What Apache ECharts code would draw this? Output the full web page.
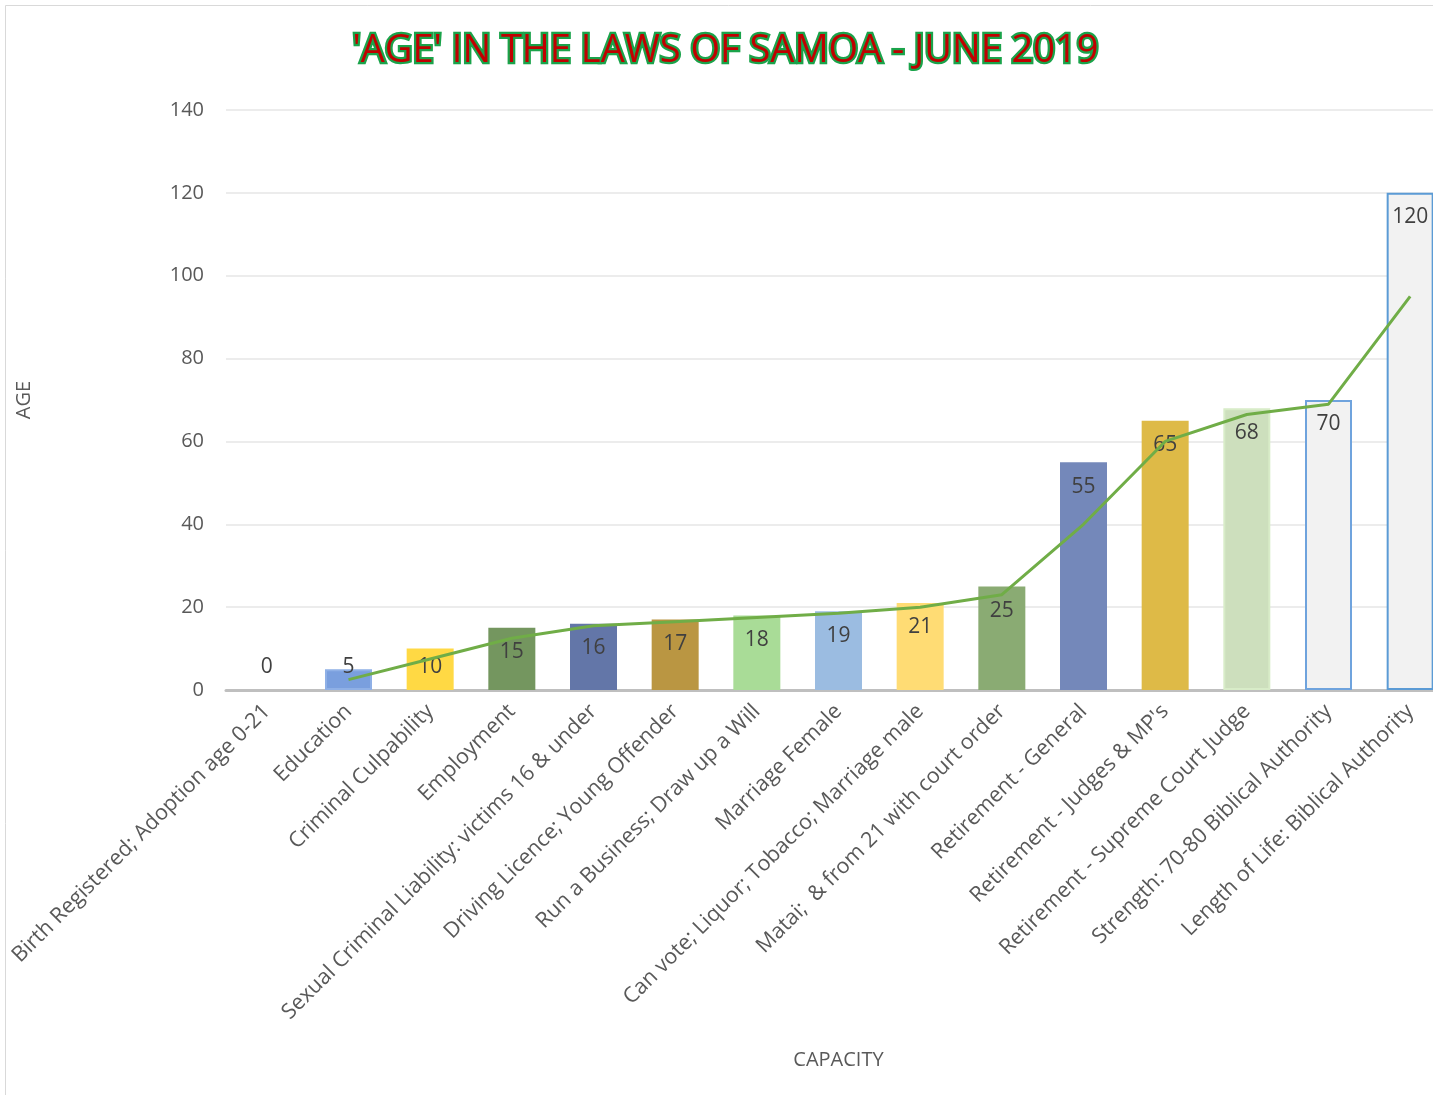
<!DOCTYPE html>
<html><head><meta charset="utf-8">
<script src="https://cdn.jsdelivr.net/npm/echarts@6/dist/echarts.min.js"></script>
<style>html,body{margin:0;padding:0;background:#fff;overflow:hidden;}#c{width:1451px;height:1095px;}</style>
</head><body><div id="c"></div>
<script>
const categories = [
  "Birth Registered; Adoption age 0-21",
  "Education",
  "Criminal Culpability",
  "Employment",
  "Sexual Criminal Liability: victims 16 & under",
  "Driving Licence; Young Offender",
  "Run a Business; Draw up a Will",
  "Marriage Female",
  "Can vote; Liquor; Tobacco; Marriage male",
  "Matai;  & from 21 with court order",
  "Retirement - General",
  "Retirement - Judges & MP's",
  "Retirement - Supreme Court Judge",
  "Strength: 70-80 Biblical Authority",
  "Length of Life: Biblical Authority"
];
const ages = [0, 5, 10, 15, 16, 17, 18, 19, 21, 25, 55, 65, 68, 70, 120];
const trend = [null, 2.5, 7.5, 12.5, 15.5, 16.5, 17.5, 18.5, 20, 23, 40, 60, 66.5, 69, 95];
const yTicks = [0, 20, 40, 60, 80, 100, 120, 140];

const barColors = ["#7a9fde", "#7a9fde", "#ffd944", "#74965f", "#6376a8", "#ba9642", "#a9dc97", "#9bbce1", "#ffdc74", "#8aab73", "#7488ba", "#deba47", "#cddfbd", "#f2f2f2", "#f2f2f2"];
const barBorders = [null, "#8fb0e6", null, null, null, null, null, null, null, null, null, null, "#d8ecc8", "#6fa3dd", "#5b9bd5"];

const FONT = "'Open Sans', 'Noto Sans', sans-serif";
const chart = echarts.init(document.getElementById('c'));
chart.setOption({
  animation: false,
  backgroundColor: '#fff',
  graphic: [{ type: 'rect', shape: { x: 5.5, y: 5.5, width: 1500, height: 1200 }, style: { fill: 'none', stroke: '#d9d9d9', lineWidth: 1 }, z: -10 }],
  title: {
    text: "'AGE' IN THE LAWS OF SAMOA - JUNE 2019",
    left: 'center', top: 27,
    textStyle: { fontFamily: FONT, fontSize: 38, fontWeight: 'normal', color: '#c00000', textBorderColor: '#1aa34a', textBorderWidth: 4.5 }
  },
  grid: { left: 226, top: 110, right: 0, height: 580, containLabel: false },
  xAxis: {
    type: 'category', data: categories,
    name: 'CAPACITY', nameLocation: 'middle', nameGap: 360,
    nameTextStyle: { fontFamily: FONT, fontSize: 20, color: '#595959' },
    axisLine: { show: true, lineStyle: { color: '#bfbfbf', width: 3 } },
    axisTick: { show: false },
    axisLabel: { rotate: 45, interval: 0, margin: 18, fontFamily: FONT, fontSize: 21.5, color: '#595959' }
  },
  yAxis: {
    type: 'value', min: yTicks[0], max: yTicks[yTicks.length - 1], interval: 20,
    name: 'AGE', nameLocation: 'middle', nameGap: 192, nameRotate: 90,
    nameTextStyle: { fontFamily: FONT, fontSize: 20, color: '#595959' },
    axisLine: { show: false }, axisTick: { show: false },
    axisLabel: { margin: 22, fontFamily: FONT, fontSize: 20, color: '#595959' },
    splitLine: { lineStyle: { color: '#ececec', width: 2 } }
  },
  series: [
    {
      type: 'bar', barWidth: 47,
      data: ages.map((v, i) => ({
        value: v,
        itemStyle: { color: barColors[i], borderColor: barBorders[i] || barColors[i], borderWidth: barBorders[i] ? 2 : 0 },
        label: v < 12 ? { position: 'insideBottom', distance: 12 } : undefined
      })),
      label: { show: true, position: 'insideTop', distance: 14, fontFamily: FONT, fontSize: 21, color: '#404040' },
      z: 2
    },
    {
      type: 'line', data: trend, symbol: 'none', connectNulls: false,
      lineStyle: { color: '#70ad47', width: 3 }, z: 5
    }
  ]
});
</script></body></html>
